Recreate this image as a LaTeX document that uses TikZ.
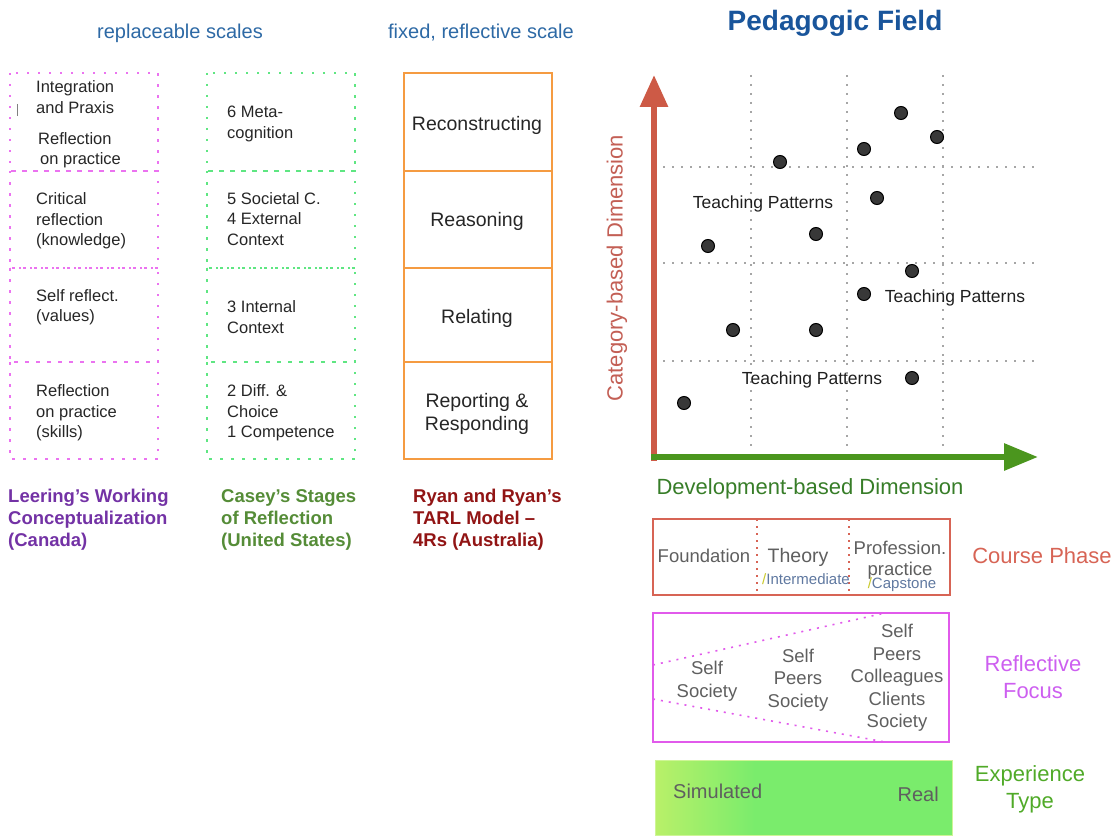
\documentclass[tikz,border=0pt]{standalone}
\usepackage{fontspec}
\setmainfont{Liberation Sans}
\usetikzlibrary{arrows.meta}
\definecolor{TitleBlue}{RGB}{25,85,155}
\definecolor{ScaleBlue}{RGB}{45,105,165}
\definecolor{LeerMagenta}{RGB}{235,115,240}
\definecolor{LeerPurple}{RGB}{115,50,165}
\definecolor{CaseyGreen}{RGB}{95,230,130}
\definecolor{CaseyText}{RGB}{85,140,55}
\definecolor{TarlOrange}{RGB}{245,155,65}
\definecolor{TarlRed}{RGB}{145,20,20}
\definecolor{CatRed}{RGB}{205,90,70}
\definecolor{CatText}{RGB}{195,95,85}
\definecolor{DevGreen}{RGB}{75,150,30}
\definecolor{DevText}{RGB}{55,125,40}
\definecolor{PhaseRed}{RGB}{215,100,85}
\definecolor{FocusPink}{RGB}{225,90,235}
\definecolor{FocusText}{RGB}{205,95,240}
\definecolor{SimYellow}{RGB}{185,240,105}
\definecolor{SimGreen}{RGB}{122,236,108}
\definecolor{ExpText}{RGB}{80,170,40}
\definecolor{SoftGray}{RGB}{95,95,95}
\definecolor{NoteBlue}{RGB}{95,120,160}
\definecolor{NoteYellow}{RGB}{200,200,40}

\begin{document}
\begin{tikzpicture}[x=1pt, y=-1pt,
  scalehead/.style={ScaleBlue, font=\fontsize{20}{24}\selectfont},
  cell/.style={anchor=west, align=left, inner sep=0, text=black!85, font=\fontsize{16.5}{20.5}\selectfont},
  tarlcell/.style={align=center, inner sep=0, text=black!85, font=\fontsize{19.5}{23.5}\selectfont},
  modelname/.style={anchor=west, align=left, inner sep=0, font=\bfseries\fontsize{18.5}{22}\selectfont},
  leerbox/.style={LeerMagenta, line width=2.4pt, dash pattern=on 2.5pt off 8.5pt},
  caseybox/.style={CaseyGreen, line width=2.4pt, dash pattern=on 2.5pt off 8.5pt},
  tarlbox/.style={TarlOrange, line width=1.6pt},
  gridline/.style={black!35, line width=1.3pt, dash pattern=on 2pt off 7pt},
  tpdot/.style={circle, draw=black, line width=1pt, fill=black!78, minimum size=13pt, inner sep=0},
  tplabel/.style={text=black!88, font=\fontsize{17.5}{21}\selectfont},
  axislabel/.style={font=\fontsize{22}{26}\selectfont},
  grayitem/.style={align=center, inner sep=0, text=SoftGray, font=\fontsize{18.5}{22.5}\selectfont},
  note/.style={inner sep=0, text=NoteBlue, font=\fontsize{15}{18}\selectfont},
  sidelabel/.style={align=center, font=\fontsize{22}{27}\selectfont}]
\useasboundingbox (0,0) rectangle (1115,837);

% scale headings
\node[scalehead] (repl) at (180,33) {replaceable scales};
\node[scalehead] (fixed) at (481,33) {fixed, reflective scale};

% three stacked scales
\foreach \ya/\yb in {73/171, 171/268, 268/362, 362/459} {
  \draw[leerbox] (10,\ya) rectangle (158,\yb);
  \draw[caseybox] (207,\ya) rectangle (355,\yb);
  \draw[tarlbox] (404,\ya) rectangle (552,\yb);
}
\draw[black!50, line width=0.8pt] (17,104) -- (17,116);

\node[cell] (leer4a) at (36,97) {Integration\\and Praxis};
\node[cell] (leer4b) at (38,150) {Reflection\\\hspace*{2pt}on practice};
\node[cell] (leer3) at (36,221) {Critical\\reflection\\(knowledge)};
\node[cell] (leer2) at (36,307) {Self reflect.\\(values)};
\node[cell] (leer1) at (36,413) {Reflection\\on practice\\(skills)};

\node[cell] (casey4) at (227,124) {6 Meta-\\cognition};
\node[cell] (casey3) at (227,219) {5 Societal C.\\4 External\\Context};
\node[cell] (casey2) at (227,317) {3 Internal\\Context};
\node[cell] (casey1) at (227,413) {2 Diff. \&\\Choice\\1 Competence};

\node[tarlcell] (tarl4) at (477,125) {Reconstructing};
\node[tarlcell] (tarl3) at (477,221) {Reasoning};
\node[tarlcell] (tarl2) at (477,318) {Relating};
\node[tarlcell] (tarl1) at (477,414) {Reporting \&\\Responding};

\node[modelname, LeerPurple] (leering) at (8,520) {Leering’s Working\\Conceptualization\\(Canada)};
\node[modelname, CaseyText] (casey) at (221,520) {Casey’s Stages\\of Reflection\\(United States)};
\node[modelname, TarlRed] (ryan) at (413,520) {Ryan and Ryan’s\\TARL Model –\\4Rs (Australia)};

% pedagogic field
\node[TitleBlue, font=\bfseries\fontsize{28}{32}\selectfont] (field) at (835,23) {Pedagogic Field};
\coordinate (origin) at (654,457);
\coordinate (ytop) at (654,75);
\coordinate (xend) at (1038,457);
\foreach \x in {751, 847, 943}
  \draw[gridline] (\x,75) -- (\x,447);
\foreach \y in {167, 263, 361}
  \draw[gridline] (663,\y) -- (1037,\y);
\draw[CatRed, line width=6pt, -{Triangle[width=27pt, length=32pt]}] (654,461) -- (ytop);
\draw[DevGreen, line width=6pt, -{Triangle[width=26pt, length=34pt]}] (651,457) -- (xend);

\foreach \x/\y [count=\i] in {901/113, 937/137, 864/149, 780/162, 877/198, 816/234, 708/246,
    912/271, 864/294, 733/330, 816/330, 912/378, 684/403}
  \node[tpdot] (dot\i) at (\x,\y) {};

\node[tplabel] (tpa) at (763,204) {Teaching Patterns};
\node[tplabel] (tpb) at (955,298) {Teaching Patterns};
\node[tplabel] (tpc) at (812,380) {Teaching Patterns};

\node[axislabel, CatText, rotate=90] (catlab) at (617,268) {Category-based Dimension};
\node[axislabel, DevText] (devlab) at (810,489) {Development-based Dimension};

% course phase
\draw[PhaseRed, line width=1.6pt] (653,519) rectangle (950,595);
\draw[PhaseRed, line width=1.6pt, dash pattern=on 2pt off 5pt] (757,519) -- (757,595);
\draw[PhaseRed, line width=1.6pt, dash pattern=on 2pt off 5pt] (849,519) -- (849,595);
\node[grayitem] (found) at (704,556) {Foundation};
\node[grayitem, font=\fontsize{19.5}{23}\selectfont] (theory) at (798,557) {Theory};
\node[note] (inter) at (806,579) {\textcolor{NoteYellow}{/}Intermediate};
\node[grayitem, font=\fontsize{18.5}{21}\selectfont] (prof) at (900,560) {Profession.\\practice};
\node[note] (caps) at (902,585) {\textcolor{NoteYellow}{/}Capstone};
\node[sidelabel, PhaseRed] (phase) at (1042,556) {Course Phase};

% reflective focus
\draw[FocusPink, line width=1.6pt] (653,613) rectangle (949,742);
\draw[FocusPink, line width=1.6pt, dash pattern=on 2pt off 6pt] (653,665) -- (885,613);
\draw[FocusPink, line width=1.6pt, dash pattern=on 2pt off 6pt] (653,699) -- (885,742);
\node[grayitem] (focusa) at (707,681) {Self\\Society};
\node[grayitem] (focusb) at (798,680) {Self\\Peers\\Society};
\node[grayitem] (focusc) at (897,678) {Self\\Peers\\Colleagues\\Clients\\Society};
\node[sidelabel, FocusText] (focus) at (1033,677) {Reflective\\Focus};

% experience type
\shade[left color=SimYellow, right color=SimGreen] (655,760) rectangle (755,835);
\fill[SimGreen] (754,760) rectangle (952,835);
\draw[SimYellow!70, line width=0.8pt] (655,760) rectangle (952,835);
\node[grayitem, anchor=west, font=\fontsize{20}{24}\selectfont] (sim) at (673,791) {Simulated};
\node[grayitem, anchor=east, font=\fontsize{20}{24}\selectfont] (real) at (939,794) {Real};
\node[sidelabel, ExpText] (exp) at (1030,789) {Experience\\Type};
\end{tikzpicture}
\end{document}
